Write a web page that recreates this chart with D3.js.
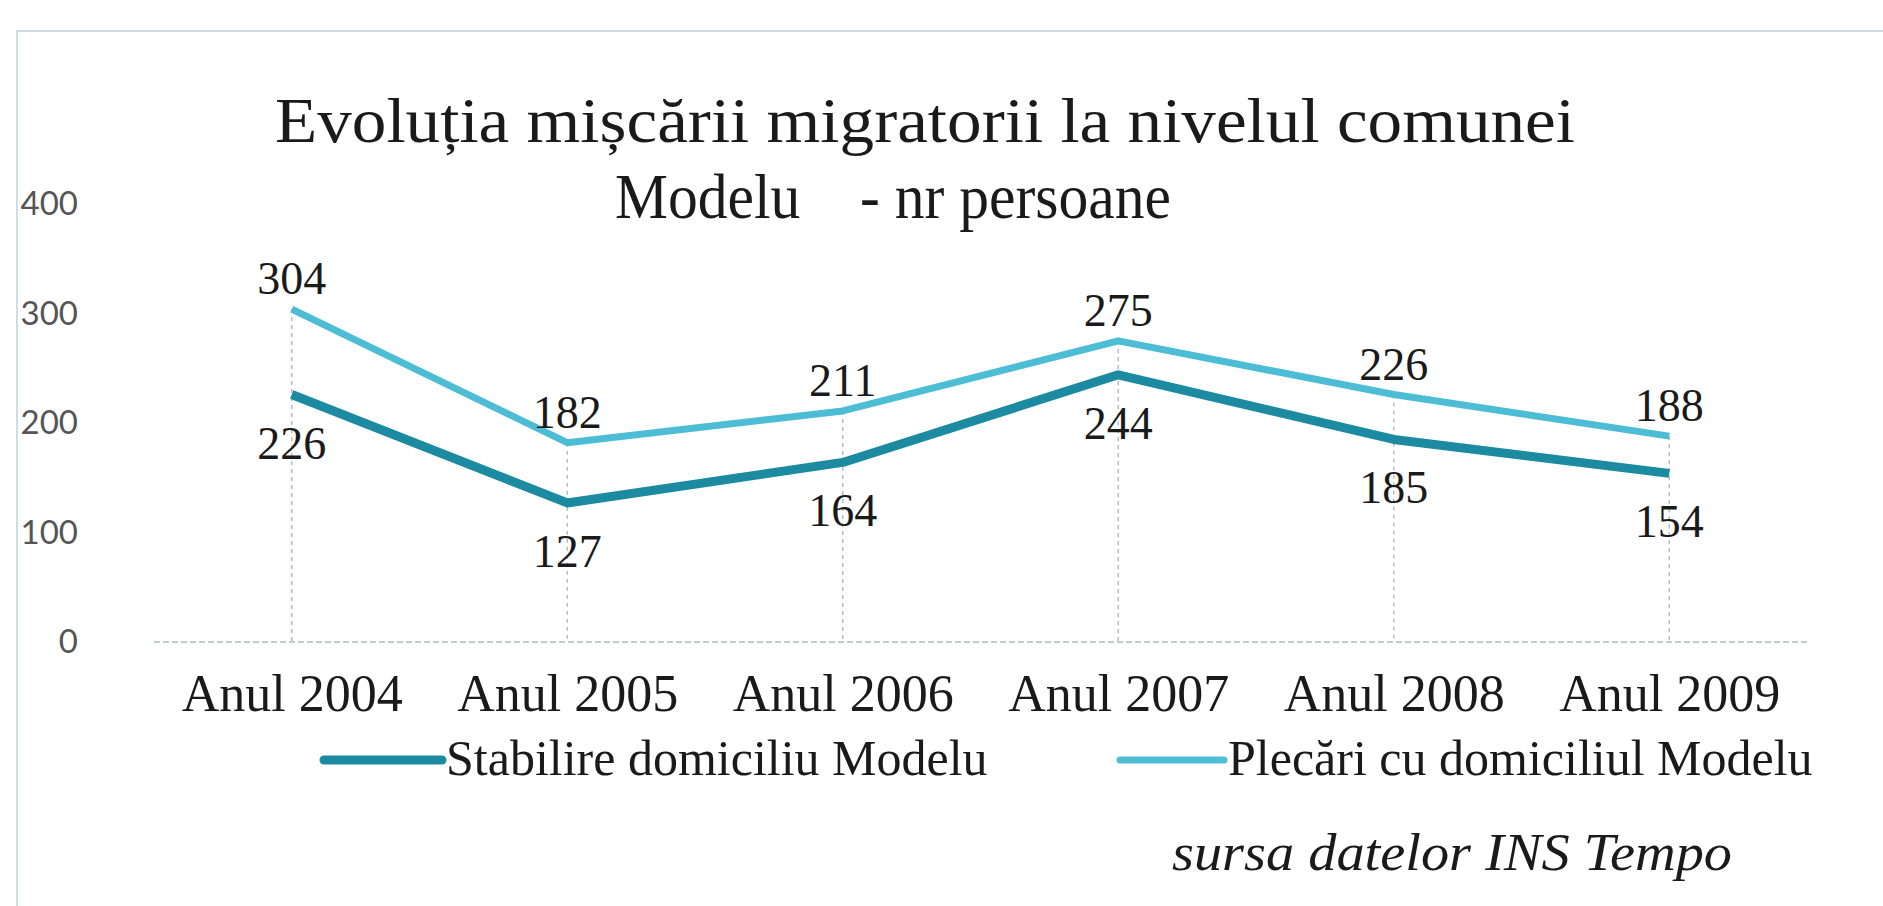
<!DOCTYPE html>
<html>
<head>
<meta charset="utf-8">
<script src="https://cdnjs.cloudflare.com/ajax/libs/d3/7.8.5/d3.min.js"></script>
<style>
  html, body { margin: 0; padding: 0; background: #fff; }
  svg { display: block; }
  .serif { font-family: "Liberation Serif", "Times New Roman", serif; fill: #1a1a1a; }
  .axis--y text { font-family: Lato, "Open Sans", sans-serif; fill: #555; font-size: 33px; }
  .axis--x text { font-family: "Liberation Serif", serif; fill: #1a1a1a; font-size: 52px; }
</style>
</head>
<body>
<div id="chart"></div>
<script>
// chart data
var years = ["Anul 2004", "Anul 2005", "Anul 2006", "Anul 2007", "Anul 2008", "Anul 2009"];
var stabilire = [226, 127, 164, 244, 185, 154];
var plecari = [304, 182, 211, 275, 226, 188];
var yTicks = [0, 100, 200, 300, 400];
var seriesNames = ["Stabilire domiciliu Modelu", "Plecări cu domiciliul Modelu"];

var W = 1883, H = 906;
var plot = {left: 154, right: 1807, top: 204, bottom: 642};

var svg = d3.select("#chart").append("svg")
    .attr("width", W)
    .attr("height", H);

// frame of the chart box (right and bottom edges run off the page)
svg.append("rect")
    .attr("x", 17).attr("y", 31)
    .attr("width", 1920).attr("height", 900)
    .attr("fill", "none")
    .attr("stroke", "#cddde2")
    .attr("stroke-width", 2);

var x = d3.scalePoint().domain(years).range([plot.left, plot.right]).padding(0.5);
var y = d3.scaleLinear().domain([0, 400]).range([plot.bottom, plot.top]);

// title
svg.append("text").attr("class", "serif")
    .attr("x", 925).attr("y", 142)
    .attr("text-anchor", "middle")
    .attr("font-size", 64)
    .attr("textLength", 1300).attr("lengthAdjust", "spacingAndGlyphs")
    .text("Evoluția mișcării migratorii la nivelul comunei");

svg.append("text").attr("class", "serif")
    .attr("x", 893).attr("y", 218)
    .attr("text-anchor", "middle")
    .attr("font-size", 64)
    .attr("xml:space", "preserve")
    .style("white-space", "pre")
    .attr("textLength", 556).attr("lengthAdjust", "spacingAndGlyphs")
    .text("Modelu    - nr persoane");

// y axis labels
svg.append("g")
    .attr("class", "axis axis--y")
    .attr("transform", "translate(78,0)")
    .call(d3.axisLeft(y).tickValues(yTicks).tickSize(0).tickPadding(0))
    .call(function(g) { g.select(".domain").remove(); });

// baseline
svg.append("line")
    .attr("x1", plot.left).attr("x2", plot.right)
    .attr("y1", y(0)).attr("y2", y(0))
    .attr("stroke", "#c3cbcf")
    .attr("stroke-width", 2)
    .attr("stroke-dasharray", "6,3");

// drop lines
svg.append("g").selectAll("line")
    .data(years)
    .enter().append("line")
    .attr("x1", function(d) { return x(d); })
    .attr("x2", function(d) { return x(d); })
    .attr("y1", function(d, i) { return y(Math.max(stabilire[i], plecari[i])); })
    .attr("y2", y(0))
    .attr("stroke", "#b3bec4")
    .attr("stroke-width", 1.5)
    .attr("stroke-dasharray", "4,4");

// category axis
svg.append("g")
    .attr("class", "axis axis--x")
    .attr("transform", "translate(0,711)")
    .call(d3.axisBottom(x).tickSize(0).tickPadding(0))
    .call(function(g) {
        g.select(".domain").remove();
        g.selectAll("text").attr("dy", 0);
    });

var line = d3.line()
    .x(function(d, i) { return x(years[i]); })
    .y(function(d) { return y(d); });

var colors = ["#1c8ba1", "#4dbdd5"];

svg.append("path")
    .datum(plecari)
    .attr("fill", "none")
    .attr("stroke", colors[1])
    .attr("stroke-width", 7)
    .attr("stroke-linejoin", "round")
    .attr("d", line);

svg.append("path")
    .datum(stabilire)
    .attr("fill", "none")
    .attr("stroke", colors[0])
    .attr("stroke-width", 9)
    .attr("stroke-linejoin", "round")
    .attr("d", line);

// data labels
svg.append("g").selectAll("text")
    .data(plecari)
    .enter().append("text").attr("class", "serif")
    .attr("x", function(d, i) { return x(years[i]); })
    .attr("y", function(d) { return y(d) - 15; })
    .attr("text-anchor", "middle")
    .attr("font-size", 46)
    .text(function(d) { return d; });

svg.append("g").selectAll("text")
    .data(stabilire)
    .enter().append("text").attr("class", "serif")
    .attr("x", function(d, i) { return x(years[i]); })
    .attr("y", function(d) { return y(d) + 64; })
    .attr("text-anchor", "middle")
    .attr("font-size", 46)
    .text(function(d) { return d; });

// legend
var legend = [
    {x: 324, name: seriesNames[0], color: colors[0], w: 9},
    {x: 1120, name: seriesNames[1], color: colors[1], w: 7}
];
var lg = svg.append("g").selectAll("g")
    .data(legend)
    .enter().append("g")
    .attr("transform", function(d) { return "translate(" + d.x + ",760)"; });

lg.append("line")
    .attr("x1", 0).attr("x2", function(d, i) { return i ? 104 : 118; })
    .attr("stroke", function(d) { return d.color; })
    .attr("stroke-width", function(d) { return d.w; })
    .attr("stroke-linecap", "round");

lg.append("text").attr("class", "serif")
    .attr("x", function(d, i) { return i ? 108 : 122; }).attr("y", 15)
    .attr("font-size", 50)
    .text(function(d) { return d.name; });

// source note
svg.append("text").attr("class", "serif")
    .attr("x", 1172).attr("y", 870)
    .attr("font-size", 52)
    .attr("font-style", "italic")
    .attr("textLength", 560).attr("lengthAdjust", "spacingAndGlyphs")
    .text("sursa datelor INS Tempo");
</script>
</body>
</html>
